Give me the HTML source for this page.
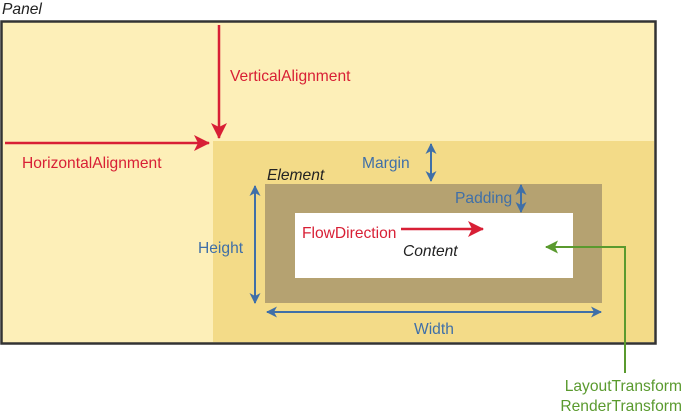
<!DOCTYPE html>
<html><head><style>
body{margin:0;width:684px;height:414px;background:#fff;overflow:hidden}
</style></head><body>
<svg width="684" height="414" xmlns="http://www.w3.org/2000/svg" font-family="Liberation Sans, sans-serif" font-size="15.6">
<defs>
<marker id="r" markerWidth="16" markerHeight="16" refX="15" refY="8" orient="auto-start-reverse" markerUnits="userSpaceOnUse" viewBox="0 0 16 16"><path d="M0,0L16,8L0,16L4,8z" fill="#d81f35"/></marker>
<marker id="b" markerWidth="11" markerHeight="11" refX="10" refY="5.5" orient="auto-start-reverse" markerUnits="userSpaceOnUse" viewBox="0 0 11 11"><path d="M0,0L11,5.5L0,11L3,5.5z" fill="#3f6fa8"/></marker>
<marker id="g" markerWidth="13" markerHeight="13" refX="12" refY="6.5" orient="auto" markerUnits="userSpaceOnUse" viewBox="0 0 13 13"><path d="M0,0L13,6.5L0,13L3,6.5z" fill="#5a9a2e"/></marker>
</defs>
<text x="2" y="14" font-style="italic" fill="#222">Panel</text>
<rect x="1.5" y="21.5" width="654" height="322" fill="#fdefb8" stroke="#333" stroke-width="2.5"/>
<rect x="213" y="141" width="441" height="201" fill="#f3db88"/>
<rect x="265" y="184" width="337" height="119" fill="#b5a271"/>
<rect x="295" y="213" width="278" height="65" fill="#fff"/>
<line x1="219" y1="25" x2="219" y2="138" stroke="#d81f35" stroke-width="2.5" marker-end="url(#r)"/>
<line x1="5" y1="143" x2="209" y2="143" stroke="#d81f35" stroke-width="2.5" marker-end="url(#r)"/>
<text x="230" y="81" fill="#d81f35">VerticalAlignment</text>
<text x="22" y="168" fill="#d81f35">HorizontalAlignment</text>
<text x="362" y="168" fill="#3f6fa8">Margin</text>
<line x1="431" y1="144" x2="431" y2="181" stroke="#3f6fa8" stroke-width="2" marker-start="url(#b)" marker-end="url(#b)"/>
<text x="267" y="180" font-style="italic" fill="#222">Element</text>
<text x="455" y="203" fill="#3f6fa8">Padding</text>
<line x1="521" y1="185" x2="521" y2="212" stroke="#3f6fa8" stroke-width="2" marker-start="url(#b)" marker-end="url(#b)"/>
<text x="198" y="253" fill="#3f6fa8">Height</text>
<line x1="255" y1="186" x2="255" y2="303" stroke="#3f6fa8" stroke-width="2" marker-start="url(#b)" marker-end="url(#b)"/>
<line x1="267" y1="312" x2="601" y2="312" stroke="#3f6fa8" stroke-width="2" marker-start="url(#b)" marker-end="url(#b)"/>
<text x="414" y="334" fill="#3f6fa8">Width</text>
<text x="302" y="238" fill="#d81f35">FlowDirection</text>
<line x1="401" y1="229" x2="483" y2="229" stroke="#d81f35" stroke-width="2.5" marker-end="url(#r)"/>
<text x="403" y="256" font-style="italic" fill="#222">Content</text>
<polyline points="625,373 625,247 546,247" fill="none" stroke="#5a9a2e" stroke-width="2" marker-end="url(#g)"/>
<text x="682" y="391" text-anchor="end" fill="#5a9a2e">LayoutTransform</text>
<text x="682" y="411" text-anchor="end" fill="#5a9a2e">RenderTransform</text>
</svg>
</body></html>
